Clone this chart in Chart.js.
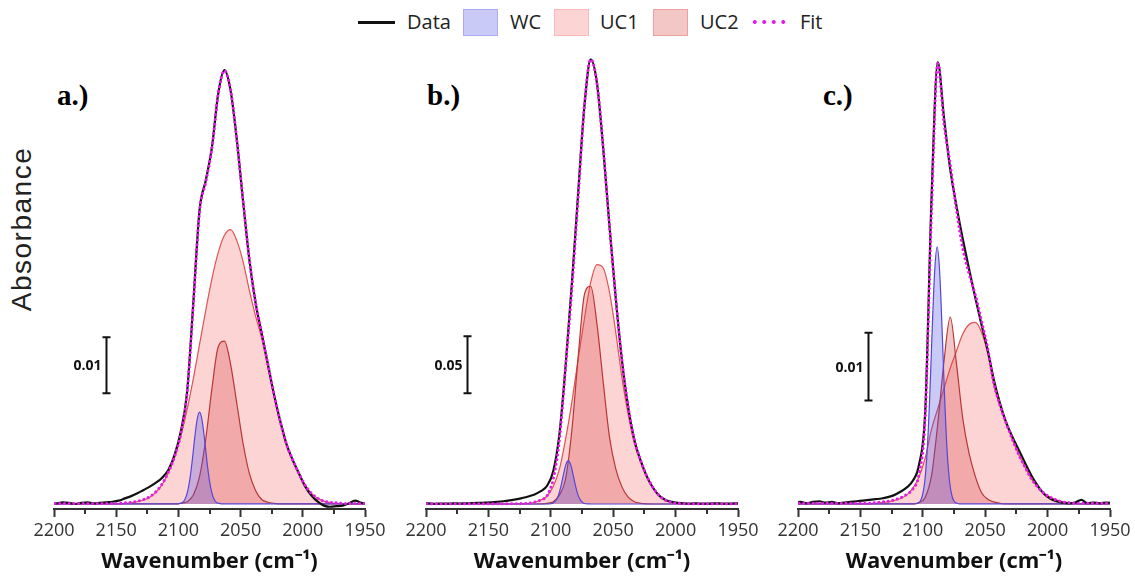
<!DOCTYPE html>
<html>
<head>
<meta charset="utf-8">
<title>IR band fits</title>
<script src="https://cdn.jsdelivr.net/npm/chart.js@4.4.1/dist/chart.umd.min.js"></script>
<style>
  body { margin: 0; background: #fff; }
  #page { position: relative; width: 1135px; height: 577px; overflow: hidden; font-family: "Open Sans", sans-serif; color: #222; }
  canvas { position: absolute; top: 0; }
  .legText { position: absolute; top: 9px; font-size: 20px; line-height: 26px; white-space: nowrap; }
  .swatch { position: absolute; top: 9px; width: 35px; height: 27px; box-sizing: border-box; }
  .ylab { position: absolute; left: 22px; top: 229px; transform: translate(-50%, -50%) rotate(-90deg);
          font-family: "Liberation Sans", Arial, sans-serif; font-size: 28px; letter-spacing: 1.5px; white-space: nowrap; color: #222; }
  .plab { position: absolute; top: 81px; font-family: "Liberation Serif", "Times New Roman", serif; font-weight: bold;
          font-size: 29px; line-height: 28px; color: #000; }
</style>
</head>
<body>
<div id="page">
  <!-- legend -->
  <div style="position:absolute;left:358px;top:21px;width:37px;height:3px;background:#111;"></div>
  <div class="legText" style="left:407px;">Data</div>
  <div class="swatch" style="left:463px;background:rgba(80,80,230,0.30);border:1px solid rgba(80,80,230,0.25);"></div>
  <div class="legText" style="left:510px;">WC</div>
  <div class="swatch" style="left:554px;background:rgba(250,120,120,0.32);border:1px solid rgba(250,120,120,0.3);"></div>
  <div class="legText" style="left:600px;">UC1</div>
  <div class="swatch" style="left:653px;background:rgba(220,70,70,0.30);border:1px solid rgba(220,70,70,0.3);"></div>
  <div class="legText" style="left:700px;">UC2</div>
  <div style="position:absolute;left:750px;top:19px;width:38px;height:6px;
       background:radial-gradient(circle, #e41de4 1.7px, transparent 2.2px) 0 0 / 9.5px 6px repeat-x;"></div>
  <div class="legText" style="left:800px;">Fit</div>

  <div class="ylab">Absorbance</div>
  <div class="plab" style="left:57px;">a.)</div>
  <div class="plab" style="left:427px;">b.)</div>
  <div class="plab" style="left:823px;">c.)</div>

  <canvas id="chartA" width="400" height="577" style="left:0px;"></canvas>
  <canvas id="chartB" width="390" height="577" style="left:380px;"></canvas>
  <canvas id="chartC" width="375" height="577" style="left:760px;"></canvas>
</div>

<script>
// ------------------------------------------------------------
// Data (absorbance vs wavenumber, cm-1)
// ------------------------------------------------------------
const wavenumbers = [2203, 2198, 2193, 2188, 2183, 2178, 2173, 2168, 2163, 2158,
  2153, 2148, 2143, 2138, 2133, 2128, 2123, 2118, 2113, 2108,
  2103, 2098, 2093, 2088, 2083, 2078, 2073, 2068, 2063, 2058,
  2053, 2048, 2043, 2038, 2033, 2028, 2023, 2018, 2013, 2008,
  2003, 1998, 1993, 1988, 1983, 1978, 1973, 1968, 1963, 1958,
  1953, 1948];
const tickLabels = [2200, 2150, 2100, 2050, 2000, 1950];

// panel a
const dataA = [0.0003, 0.0001, 0.0003, 0.0002, 0.0000, 0.0002, 0.0003, 0.0001, 0.0002, 0.0003,
  0.0004, 0.0006, 0.0010, 0.0014, 0.0019, 0.0025, 0.0031, 0.0038, 0.0047, 0.0061,
  0.0088, 0.0130, 0.0200, 0.0360, 0.0525, 0.0578, 0.0638, 0.0733, 0.0775, 0.0738,
  0.0650, 0.0541, 0.0437, 0.0360, 0.0304, 0.0249, 0.0194, 0.0147, 0.0106, 0.0078,
  0.0054, 0.0031, 0.0015, 0.0004, -0.0003, -0.0005, -0.0004, -0.0003, 0.0001, 0.0006,
  0.0002, 0.0001];
const fitA = [0.0001, 0.0001, 0.0001, 0.0001, 0.0001, 0.0001, 0.0001, 0.0001, 0.0001, 0.0001,
  0.0001, 0.0001, 0.0002, 0.0003, 0.0005, 0.0008, 0.0013, 0.0022, 0.0036, 0.0057,
  0.0085, 0.0126, 0.0198, 0.0355, 0.0522, 0.0575, 0.0636, 0.0732, 0.0774, 0.0739,
  0.0649, 0.0541, 0.0437, 0.0360, 0.0304, 0.0249, 0.0194, 0.0146, 0.0106, 0.0078,
  0.0054, 0.0033, 0.0019, 0.0010, 0.0005, 0.0003, 0.0002, 0.0001, 0.0001, 0.0001,
  0.0001, 0.0001];
const uc1A = [0, 0, 0, 0, 0, 0, 0, 0, 0, 0,
  0, 0, 0.0001, 0.0002, 0.0004, 0.0007, 0.0012, 0.0021, 0.0035, 0.0056,
  0.0084, 0.0122, 0.0169, 0.0224, 0.0285, 0.0346, 0.0403, 0.0449, 0.0480, 0.0490,
  0.0470, 0.0433, 0.0382, 0.0336, 0.0296, 0.0246, 0.0193, 0.0146, 0.0106, 0.0078,
  0.0054, 0.0033, 0.0019, 0.0010, 0.0005, 0.0002, 0.0001, 0, 0, 0,
  0, 0];
const uc2A = [0, 0, 0, 0, 0, 0, 0, 0, 0, 0,
  0, 0, 0, 0, 0, 0, 0, 0, 0, 0,
  0, 0.0001, 0.0004, 0.0016, 0.0049, 0.0116, 0.0207, 0.0281, 0.0291, 0.0249,
  0.0179, 0.0108, 0.0055, 0.0024, 0.0008, 0.0003, 0.0001, 0, 0, 0,
  0, 0, 0, 0, 0, 0, 0, 0, 0, 0,
  0, 0];
const wcWaveA = [2203, 2101, 2099, 2097, 2095, 2093, 2091, 2089, 2087, 2085, 2083,
  2081, 2079, 2077, 2075, 2073, 2071, 2069, 2067, 2065, 1948];
const wcA = [0, 0, 0.0001, 0.0002, 0.0007, 0.0019, 0.0041, 0.0075, 0.0116, 0.0150, 0.0164,
  0.0150, 0.0116, 0.0075, 0.0041, 0.0019, 0.0007, 0.0002, 0.0001, 0, 0];

// panel b
const dataB = [0.0003, 0.0005, 0.0002, 0.0004, 0.0003, 0.0005, 0.0004, 0.0006, 0.0007, 0.0009,
  0.0012, 0.0015, 0.0019, 0.0024, 0.0031, 0.0040, 0.0052, 0.0066, 0.0084, 0.0112,
  0.0160, 0.0290, 0.0620, 0.1230, 0.1950, 0.2740, 0.3500, 0.3900, 0.3690, 0.3120,
  0.2440, 0.1810, 0.1260, 0.0850, 0.0560, 0.0380, 0.0240, 0.0140, 0.0072, 0.0035,
  0.0018, 0.0010, 0.0006, 0.0004, 0.0005, 0.0003, 0.0004, 0.0006, 0.0004, 0.0003,
  0.0005, 0.0004];
const fitB = [0.0002, 0.0002, 0.0002, 0.0002, 0.0002, 0.0002, 0.0002, 0.0002, 0.0002, 0.0002,
  0.0002, 0.0002, 0.0002, 0.0002, 0.0002, 0.0003, 0.0004, 0.0007, 0.0017, 0.0036,
  0.0073, 0.0220, 0.0570, 0.1220, 0.1900, 0.2700, 0.3500, 0.3900, 0.3690, 0.3120,
  0.2440, 0.1810, 0.1260, 0.0850, 0.0560, 0.0380, 0.0243, 0.0143, 0.0072, 0.0032,
  0.0014, 0.0006, 0.0003, 0.0003, 0.0003, 0.0003, 0.0003, 0.0003, 0.0003, 0.0003,
  0.0003, 0.0003];
const uc1B = [0, 0, 0, 0, 0, 0, 0, 0, 0, 0,
  0, 0, 0, 0, 0, 0, 0.0002, 0.0005, 0.0015, 0.0035,
  0.0068, 0.0155, 0.0310, 0.0578, 0.0903, 0.1275, 0.1630, 0.1945, 0.2100, 0.2070,
  0.1860, 0.1510, 0.1110, 0.0785, 0.0535, 0.0374, 0.0242, 0.0141, 0.0070, 0.0030,
  0.0012, 0.0004, 0.0001, 0, 0, 0, 0, 0, 0, 0,
  0, 0];
const uc2B = [0, 0, 0, 0, 0, 0, 0, 0, 0, 0,
  0, 0, 0, 0, 0, 0, 0, 0, 0, 0.0001,
  0.0005, 0.0020, 0.0080, 0.0230, 0.0660, 0.1300, 0.1840, 0.1910, 0.1577, 0.1069,
  0.0589, 0.0310, 0.0150, 0.0060, 0.0020, 0.0006, 0.0001, 0, 0, 0,
  0, 0, 0, 0, 0, 0, 0, 0, 0, 0,
  0, 0];
const wcWaveB = [2203, 2104, 2102, 2100, 2098, 2096, 2094, 2092, 2090, 2088, 2086,
  2084, 2082, 2080, 2078, 2076, 2074, 2072, 2070, 2068, 1948];
const wcB = [0, 0, 0.0001, 0.0002, 0.0009, 0.0029, 0.0073, 0.0150, 0.0251, 0.0343, 0.0380,
  0.0343, 0.0251, 0.0150, 0.0073, 0.0029, 0.0009, 0.0002, 0.0001, 0, 0];

// panel c
const dataC = [0.0002, 0.0003, 0.0001, 0.0003, 0.0004, 0.0002, 0.0003, 0.0001, 0.0002, 0.0003,
  0.0004, 0.0005, 0.0006, 0.0007, 0.0008, 0.0010, 0.0013, 0.0018, 0.0024, 0.0034,
  0.0058, 0.0138, 0.0450, 0.0650, 0.0568, 0.0492, 0.0438, 0.0390, 0.0346, 0.0304,
  0.0264, 0.0226, 0.0182, 0.0147, 0.0119, 0.0098, 0.0079, 0.0060, 0.0042, 0.0027,
  0.0015, 0.0008, 0.0004, 0.0002, 0.0001, 0.0002, 0.0006, 0.0001, 0.0002, 0.0001,
  0.0002, 0.0001];
const fitC = [0.0001, 0.0001, 0.0001, 0.0001, 0.0001, 0.0001, 0.0001, 0.0001, 0.0001, 0.0001,
  0.0001, 0.0001, 0.0001, 0.0002, 0.0003, 0.0004, 0.0006, 0.0009, 0.0014, 0.0022,
  0.0044, 0.0130, 0.0430, 0.0648, 0.0559, 0.0499, 0.0432, 0.0376, 0.0339, 0.0308,
  0.0270, 0.0229, 0.0177, 0.0144, 0.0118, 0.0094, 0.0072, 0.0054, 0.0037, 0.0025,
  0.0016, 0.0010, 0.0006, 0.0003, 0.0002, 0.0001, 0.0001, 0.0001, 0.0001, 0.0001,
  0.0001, 0.0001];
const uc1C = [0, 0, 0, 0, 0, 0, 0, 0, 0, 0,
  0, 0, 0, 0.0001, 0.0002, 0.0003, 0.0005, 0.0008, 0.0013, 0.0023,
  0.0040, 0.0068, 0.0110, 0.0140, 0.0170, 0.0200, 0.0225, 0.0250, 0.0264, 0.0267,
  0.0253, 0.0222, 0.0174, 0.0143, 0.0118, 0.0094, 0.0072, 0.0054, 0.0037, 0.0025,
  0.0016, 0.0010, 0.0006, 0.0003, 0.0002, 0.0001, 0, 0, 0, 0,
  0, 0];
const uc2C = [0, 0, 0, 0, 0, 0, 0, 0, 0, 0,
  0, 0, 0, 0, 0, 0, 0, 0, 0, 0,
  0.0002, 0.0010, 0.0042, 0.0118, 0.0210, 0.0275, 0.0206, 0.0126, 0.0075, 0.0041,
  0.0017, 0.0007, 0.0003, 0.0001, 0, 0, 0, 0, 0, 0,
  0, 0, 0, 0, 0, 0, 0, 0, 0, 0,
  0, 0];
const wcWaveC = [2203, 2106.5, 2104.5, 2102.5, 2100.5, 2098.5, 2096.5, 2094.5, 2092.5, 2090.5, 2088.5,
  2086.5, 2084.5, 2082.5, 2080.5, 2078.5, 2076.5, 2074.5, 2072.5, 2070.5, 1948];
const wcC = [0, 0, 0.0001, 0.0003, 0.0011, 0.0032, 0.0078, 0.0155, 0.0255, 0.0342, 0.0378,
  0.0342, 0.0255, 0.0155, 0.0078, 0.0032, 0.0011, 0.0003, 0.0001, 0, 0];

// scale bars (one per panel): where they sit in data space and how tall they are
const scaleBarWave = [2158, 2167, 2144];
const scaleBarLow = [0.0198, 0.0971, 0.0152];
const scaleBarSize = [0.01, 0.05, 0.01];
const scaleBarText = ["0.01", "0.05", "0.01"];

// ------------------------------------------------------------
const FONT = "'Open Sans', sans-serif";
Chart.defaults.font.family = FONT;

const pts = (xs, ys) => xs.map((x, i) => ({ x, y: ys[i] }));

// minor ticks on the x axis + the vertical scale bar
const panelExtras = {
  id: "panelExtras",
  afterDraw(chart, args, opts) {
    const { ctx, chartArea, scales } = chart;
    ctx.save();
    ctx.strokeStyle = "#333";
    ctx.lineWidth = 2;
    scales.x.ticks.forEach(t => {
      if (tickLabels.includes(t.value)) return;
      const px = Math.round(scales.x.getPixelForValue(t.value));
      ctx.beginPath();
      ctx.moveTo(px, chartArea.bottom);
      ctx.lineTo(px, chartArea.bottom + 5);
      ctx.stroke();
    });

    const i = opts.index;
    const bx = Math.round(scales.x.getPixelForValue(scaleBarWave[i])) + 0.5;
    const y1 = scales.y.getPixelForValue(scaleBarLow[i]);
    const y2 = scales.y.getPixelForValue(scaleBarLow[i] + scaleBarSize[i]);
    ctx.strokeStyle = "#111";
    ctx.lineWidth = 2;
    ctx.beginPath();
    ctx.moveTo(bx, y1); ctx.lineTo(bx, y2);
    ctx.moveTo(bx - 4, y1); ctx.lineTo(bx + 4, y1);
    ctx.moveTo(bx - 4, y2); ctx.lineTo(bx + 4, y2);
    ctx.stroke();
    ctx.fillStyle = "#111";
    ctx.font = "bold 14px " + FONT;
    ctx.textAlign = "right";
    ctx.textBaseline = "middle";
    ctx.fillText(scaleBarText[i], bx - 5, (y1 + y2) / 2 + 1);
    ctx.restore();
  },
};

function makePanel(id, index, padL, padR, yMin, yMax, sets) {
  const [data, fit, wcWave, wc, uc1, uc2] = sets;
  return new Chart(document.getElementById(id), {
    type: "line",
    data: {
      datasets: [
        { label: "Fit", data: pts(wavenumbers, fit), borderColor: "#e41de4", borderWidth: 3,
          borderDash: [0.1, 4.6], borderCapStyle: "round", order: 0 },
        { label: "Data", data: pts(wavenumbers, data), borderColor: "#111", borderWidth: 2.2, order: 1 },
        { label: "WC", data: pts(wcWave, wc), borderColor: "#5546d8", backgroundColor: "rgba(80,80,230,0.30)",
          fill: "origin", borderWidth: 1.2, order: 2 },
        { label: "UC2", data: pts(wavenumbers, uc2), borderColor: "#b83636", backgroundColor: "rgba(220,70,70,0.30)",
          fill: "origin", borderWidth: 1.2, order: 3 },
        { label: "UC1", data: pts(wavenumbers, uc1), borderColor: "#e05252", backgroundColor: "rgba(250,120,120,0.32)",
          fill: "origin", borderWidth: 1.2, order: 4 },
      ],
    },
    options: {
      responsive: false,
      animation: false,
      layout: { padding: { left: padL, right: padR, top: 50, bottom: 0 } },
      elements: { point: { radius: 0 }, line: { cubicInterpolationMode: "monotone", fill: false } },
      plugins: { legend: { display: false }, tooltip: { enabled: false }, panelExtras: { index } },
      scales: {
        x: {
          type: "linear", reverse: true, min: 1950, max: 2200,
          afterFit: s => { s.height = 68; },
          ticks: { stepSize: 25, autoSkip: false, maxRotation: 0, color: "#333", font: { size: 18 },
                   callback: v => tickLabels.includes(v) ? String(v) : "" },
          grid: { drawOnChartArea: false, drawTicks: true, tickLength: 8, tickWidth: 2,
                  tickColor: c => tickLabels.includes(c.tick.value) ? "#333" : "rgba(0,0,0,0)" },
          border: { display: true, color: "#333", width: 2 },
          title: { display: true, text: "Wavenumber (cm⁻¹)", color: "#111",
                   font: { size: 22, weight: "bold" }, padding: { top: 4, bottom: 2 } },
        },
        y: { display: false, min: yMin, max: yMax },
      },
    },
    plugins: [panelExtras],
  });
}

makePanel("chartA", 0, 54, 35, -0.0009, 0.0811, [dataA, fitA, wcWaveA, wcA, uc1A, uc2A]);
makePanel("chartB", 1, 46, 32, -0.0044, 0.3982, [dataB, fitB, wcWaveB, wcB, uc1B, uc2B]);
makePanel("chartC", 2, 38, 25, -0.00074, 0.06677, [dataC, fitC, wcWaveC, wcC, uc1C, uc2C]);
</script>
</body>
</html>
